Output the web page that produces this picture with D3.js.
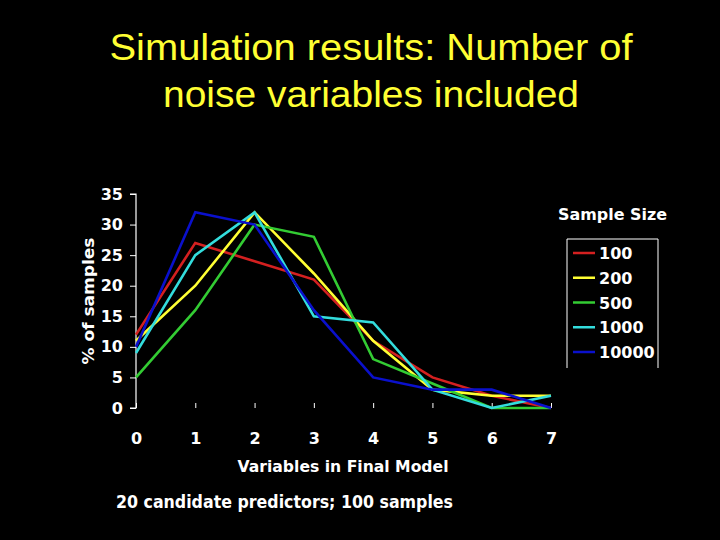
<!DOCTYPE html>
<html><head><meta charset="utf-8">
<script src="https://cdn.jsdelivr.net/npm/d3@7"></script>
<style>body{margin:0;background:#000;}svg{display:block;}</style>
</head><body>
<svg id="c" width="720" height="540"></svg>
<script>
const xCategories = [0,1,2,3,4,5,6,7];
const yTicks = [0,5,10,15,20,25,30,35];
const seriesNames = ["100","200","500","1000","10000"];
const seriesColors = ["#d42020","#ffff33","#33cc33","#33dddd","#0a10cc"];
const s100   = [12,27,24,21,11,5,2,0];
const s200   = [11,20,32,22,11,3,2,2];
const s500   = [5,16,30,28,8,4,0,0];
const s1000  = [9,25,32,15,14,3,0,2];
const s10000 = [10,32,30,16,5,3,3,0];
const seriesValues = [s100,s200,s500,s1000,s10000];

const FONT = "'DejaVu Sans', Verdana, sans-serif";
const svg = d3.select("#c");
svg.append("rect").attr("width",720).attr("height",540).attr("fill","#000");

const x = d3.scaleLinear().domain([0,7]).range([136,551]);
const y = d3.scaleLinear().domain([0,35]).range([408,194]);

// title
const title = svg.append("text").attr("fill","#ffff33").attr("text-anchor","middle")
  .style("font-family","'Liberation Sans', Arial, sans-serif").style("font-size","37px");
title.append("tspan").attr("x",371).attr("y",60).attr("textLength",523).attr("lengthAdjust","spacingAndGlyphs")
  .text("Simulation results: Number of");
title.append("tspan").attr("x",371).attr("y",107).attr("textLength",416).attr("lengthAdjust","spacingAndGlyphs")
  .text("noise variables included");

// y axis
const yAxis = d3.axisLeft(y).tickValues(yTicks).tickSize(6).tickPadding(7);
const gy = svg.append("g").attr("transform","translate(136,0)").call(yAxis);
gy.select(".domain").attr("stroke","#fff").attr("stroke-width",1.2).attr("d","M-6,194H0V408H-6");
gy.selectAll(".tick line").attr("stroke","#fff");
gy.selectAll(".tick text").attr("fill","#fff")
  .style("font-family",FONT).style("font-weight","bold").style("font-size","16px");

// x axis (ticks only)
const xAxis = d3.axisBottom(x).tickValues(xCategories).tickFormat(d3.format("d"))
  .tickSize(5).tickPadding(20).tickSizeOuter(0);
const gx = svg.append("g").attr("transform","translate(0,408)").call(xAxis);
gx.select(".domain").remove();
gx.selectAll(".tick line").attr("stroke","#fff").attr("y1",0).attr("y2",-5);
gx.selectAll(".tick text").attr("fill","#fff")
  .style("font-family",FONT).style("font-weight","bold").style("font-size","16px");

// lines
const line = d3.line().x((d,i)=>x(xCategories[i])).y(d=>y(d));
seriesValues.forEach((vals,k)=>{
  svg.append("path").datum(vals).attr("d",line).attr("fill","none")
    .attr("stroke",seriesColors[k]).attr("stroke-width",2.6).attr("stroke-linejoin","miter");
});

// axis labels
svg.append("text").attr("x",343).attr("y",472).attr("text-anchor","middle").attr("fill","#fff")
  .style("font-family",FONT).style("font-weight","bold").style("font-size","16.5px")
  .attr("textLength",211).attr("lengthAdjust","spacingAndGlyphs")
  .text("Variables in Final Model");
svg.append("text").attr("transform","translate(94,301) rotate(-90)").attr("text-anchor","middle").attr("fill","#fff")
  .style("font-family",FONT).style("font-weight","bold").style("font-size","16.5px")
  .attr("textLength",127).attr("lengthAdjust","spacingAndGlyphs")
  .text("% of samples");
svg.append("text").attr("x",116).attr("y",508).attr("fill","#fff")
  .style("font-family",FONT).style("font-weight","bold").style("font-size","17px")
  .attr("textLength",337).attr("lengthAdjust","spacingAndGlyphs")
  .text("20 candidate predictors; 100 samples");

// legend
svg.append("text").attr("x",558).attr("y",220).attr("fill","#fff")
  .style("font-family",FONT).style("font-weight","bold").style("font-size","16px")
  .attr("textLength",109).attr("lengthAdjust","spacingAndGlyphs")
  .text("Sample Size");
svg.append("path").attr("d","M567,368V239H658V368").attr("fill","none").attr("stroke","#fff").attr("stroke-width",1);
const ly = d3.scalePoint().domain(seriesNames).range([253,352]);
seriesNames.forEach((n,k)=>{
  svg.append("line").attr("x1",573).attr("x2",595).attr("y1",ly(n)).attr("y2",ly(n))
    .attr("stroke",seriesColors[k]).attr("stroke-width",2.5);
  svg.append("text").attr("x",599).attr("y",ly(n)+6).attr("fill","#fff")
    .style("font-family",FONT).style("font-weight","bold").style("font-size","16px")
    .text(n);
});
</script>
</body></html>
